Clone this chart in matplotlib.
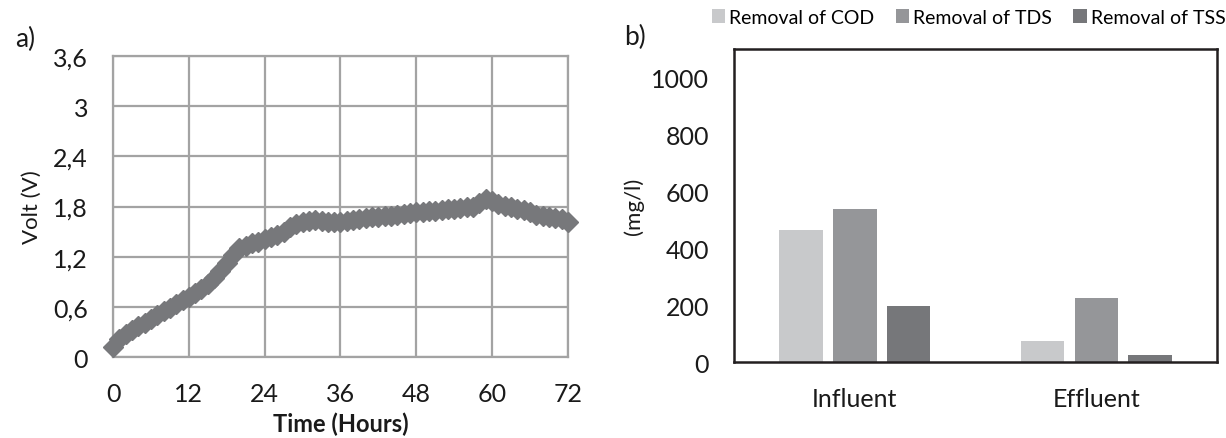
import numpy as np
import matplotlib
matplotlib.use('Agg')
import matplotlib.pyplot as plt
from matplotlib.ticker import FuncFormatter

plt.rcParams['font.family'] = ['Lato', 'DejaVu Sans']

# panel a) voltage, one reading per hour
hours = list(range(0, 73))
volt = [0.12, 0.22, 0.28, 0.32, 0.37, 0.41, 0.46, 0.50, 0.55, 0.59,
        0.63, 0.68, 0.72, 0.76, 0.81, 0.87, 0.94, 1.03, 1.12, 1.22,
        1.30, 1.33, 1.36, 1.38, 1.41, 1.43, 1.46, 1.50, 1.55, 1.59,
        1.62, 1.63, 1.64, 1.63, 1.62, 1.62, 1.62, 1.63, 1.64, 1.65,
        1.66, 1.67, 1.68, 1.69, 1.69, 1.70, 1.71, 1.72, 1.74, 1.74,
        1.75, 1.75, 1.76, 1.77, 1.77, 1.78, 1.79, 1.80, 1.84, 1.89,
        1.86, 1.83, 1.81, 1.79, 1.77, 1.76, 1.73, 1.70, 1.69, 1.67,
        1.66, 1.65, 1.61]
x_ticks = [0, 12, 24, 36, 48, 60, 72]
y_ticks = [0, 0.6, 1.2, 1.8, 2.4, 3.0, 3.6]

# panel b) removal
groups = ['Influent', 'Effluent']
series = ['Removal of COD', 'Removal of TDS', 'Removal of TSS']
cod = [463, 75]
tds = [537, 225]
tss = [196, 25]
bar_colors = ['#c8c9cb', '#959699', '#76777a']

fig = plt.figure(figsize=(12.26, 4.39), dpi=100)

# ---- a)
ax1 = fig.add_axes([0.0922, 0.1845, 0.371, 0.6856])
ax1.plot(hours, volt, color='#77787b', lw=4.5, marker='D', ms=10.5,
         mec='#77787b', mfc='#77787b', clip_on=False, zorder=3)
ax1.set_xlim(0, 72)
ax1.set_ylim(0, 3.6)
ax1.set_xticks(x_ticks)
ax1.set_yticks(y_ticks)
ax1.yaxis.set_major_formatter(FuncFormatter(
    lambda v, p: '0' if v == 0 else ('3' if abs(v - 3) < 1e-9 else ('%.1f' % v).replace('.', ','))))
ax1.grid(True, color='#a3a3a3', lw=1.6)
for s in ax1.spines.values():
    s.set_color('#a3a3a3')
    s.set_linewidth(1.6)
ax1.tick_params(length=0, labelsize=18, colors='#1a1a1a')
ax1.tick_params(axis='x', pad=18)
ax1.tick_params(axis='y', pad=18)
ax1.set_xlabel('Time (Hours)', fontsize=17, fontweight='bold', labelpad=5, color='#1a1a1a')
ax1.set_ylabel('Volt (V)', fontsize=16, labelpad=8, color='#1a1a1a')
ax1.set_axisbelow(True)
fig.text(0.012, 0.91, 'a)', fontsize=19, color='#1a1a1a', va='center')

# ---- b)
ax2 = fig.add_axes([0.5987, 0.173, 0.394, 0.713])
xg = np.arange(len(groups))
w = 0.18
step = 0.223
for i, (vals, lab) in enumerate(zip([cod, tds, tss], series)):
    ax2.bar(xg + (i - 1) * step, vals, width=w, color=bar_colors[i], label=lab, zorder=2)
ax2.set_xlim(-0.5, 1.5)
ax2.set_ylim(0, 1100)
ax2.set_yticks([0, 200, 400, 600, 800, 1000])
ax2.set_xticks(xg)
ax2.set_xticklabels(groups)
for s in ax2.spines.values():
    s.set_color('#231f20')
    s.set_linewidth(1.8)
ax2.tick_params(length=0, labelsize=18, colors='#1a1a1a')
ax2.tick_params(axis='x', pad=18)
ax2.tick_params(axis='y', pad=18)
ax2.set_ylabel('(mg/l)', fontsize=16, labelpad=5, color='#1a1a1a')
fig.text(0.509, 0.915, 'b)', fontsize=19, color='#1a1a1a', va='center')

fig.legend(loc='center', bbox_to_anchor=(0.79, 0.958), ncol=3, frameon=False,
           fontsize=14, handlelength=0.7, handleheight=0.7, handletextpad=0.2,
           columnspacing=1.1, borderaxespad=0)

fig.savefig('out.png', dpi=100)
